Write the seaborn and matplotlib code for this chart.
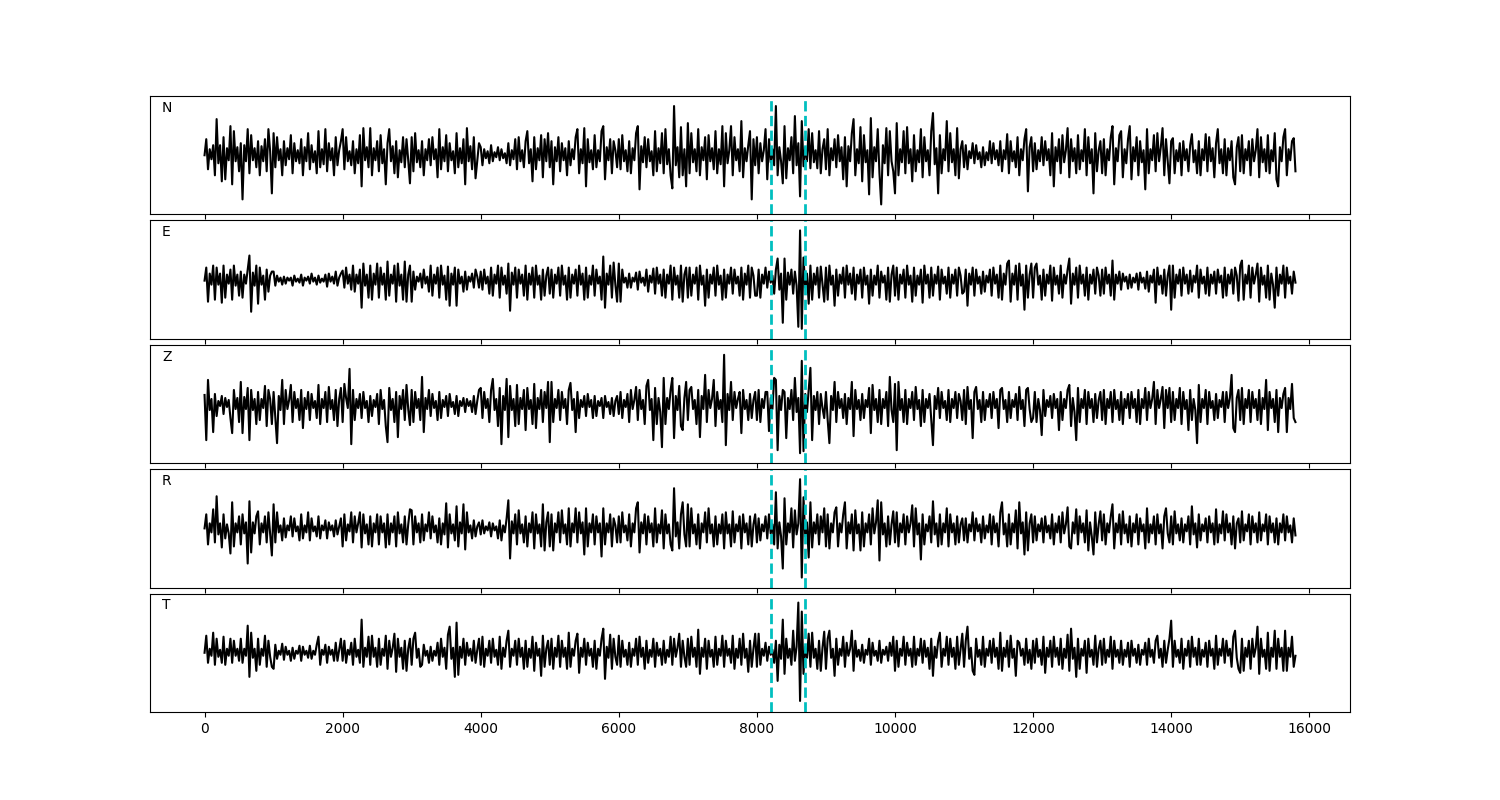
import numpy as np
import matplotlib
matplotlib.use("Agg")
import matplotlib.pyplot as plt
import seaborn as sns

# channel names and the two picks (samples)
channels = ["N", "E", "Z", "R", "T"]
pick_times = [8200, 8700]
sample_step = 25  # samples between the values below

# amplitudes, one line per 1000 samples
north = [
    0, 16, -14, 6, -4, 10, -20, 36, -8, 10, -26, 18, -24, 7, -5, 29, -29, 24, -6, 8, -16, 12, -44, 10, -6, 26, -18, 20, -5, 7, -12, 14, -20, 9, -6, 16, -16, 26, 4, -38,
    22, -12, 18, -5, 6, -20, 14, -10, 7, -4, 20, -18, 12, -6, 5, -8, 16, -20, 8, -6, 22, -14, 10, -7, 4, -18, 24, -12, 6, -9, 26, -16, 12, -5, 7, -20, 18, -10, 5, 14,
    26, -14, 18, -6, 4, -10, 14, -18, 6, -8, 20, -31, 27, -5, 8, -12, 27, -20, 7, -5, 14, -16, 20, -8, 6, -29, 12, 26, -6, 9, -18, 14, -22, 5, -7, 18, -12, 16, -5, -28,
    18, -16, 22, -7, 5, -12, 14, -20, 6, -5, 16, -10, 18, -4, 6, -22, 26, -14, 8, -6, 20, -16, 12, -5, 4, -18, 22, -12, 7, -8, 16, -29, 27, -6, 9, -14, 18, -23, -6, 12,
    8, -10, 6, -3, 4, -8, 10, -6, 3, -2, 8, -5, 6, -3, 2, -8, 12, -10, 5, -4, 16, -14, 18, -6, 5, -12, 14, 24, -8, 6, -26, 18, -14, 7, -5, 20, -22, 16, -6, 22,
    -12, 14, -29, 8, -6, 18, -16, 12, -5, 7, -20, 14, -10, 6, -4, 18, 26, -18, 6, -8, 27, -31, 16, -7, 5, -14, 20, -12, 5, -6, 24, 29, -24, 8, -5, 16, -18, 14, 5, -12,
    16, -14, 20, -6, 5, -16, 14, -18, 7, -5, 22, 29, -34, 9, -7, 18, -12, 16, -6, 4, -20, 24, -16, 7, -8, 22, -18, 26, -9, 6, -20, -33, 49, -10, 8, -22, 28, -20, 6, -31,
    32, -18, 22, -7, 6, -16, 26, -20, 8, -5, 18, -24, 20, -6, 7, -14, 24, -18, 6, -9, 29, -31, 22, -8, 5, 29, -20, 18, -5, 6, -16, 34, -22, 7, -6, 10, 24, -44, 16, -10,
    18, -18, 12, -6, 5, 26, -24, 16, -7, 6, -10, 49, -20, 8, -6, -28, 29, -23, 7, -5, 18, -18, 39, -10, 12, -41, 34, -11, 8, -6, 26, -13, 22, -7, 5, -13, 24, -18, 6, 16,
    -14, 26, -20, 7, -5, 16, -12, 20, -6, 8, -24, 18, -31, 9, -6, 22, 36, -20, 6, -8, 28, -26, 20, -7, 5, -39, 37, -22, 8, -6, 26, -18, -49, 10, -8, 27, -20, 24, -6, -16,
    -38, 32, -20, 6, -7, 24, -18, 28, -8, 6, -26, 20, -16, 5, -7, 26, -22, 18, -6, 5, -20, 24, 42, -9, 7, -38, 20, -18, 6, -5, 34, -16, 22, -7, 6, -20, 27, -23, 6, 14,
    -12, 10, -14, 4, -3, 12, -8, 10, -4, 3, -12, 8, -10, 3, -5, 14, -8, 12, -4, 5, -10, 14, -16, 5, -4, 21, -18, 14, -6, 4, -12, 18, -20, 6, -5, 16, 26, -36, 8, 18,
    -16, 12, -14, 5, -6, 18, -10, 14, -5, 6, -20, 22, -31, 8, -6, 16, -18, 20, -7, 5, 27, -22, 16, -6, 7, -18, 20, -14, 5, -6, 26, -20, 18, -8, 6, -38, 22, -16, 5, 14,
    -18, 16, -20, 6, -5, 18, 29, -29, 7, -6, 20, 24, -22, 6, -8, 16, 29, -24, 8, -6, 18, -20, 14, -7, 5, -34, 26, -18, 6, -5, 20, -16, 22, -6, 8, 27, -20, 16, -6, -28,
    14, 17, -18, 5, -6, 12, -20, 14, -5, 6, -16, 10, 21, -7, 5, -18, 14, -20, 6, -5, 21, -16, 18, -6, 7, -22, 12, 26, -8, 6, -18, 16, -20, 7, -5, 14, -22, -29, 8, 18,
    -16, 20, -18, 6, -5, 14, -20, 16, -6, 5, 26, -22, 18, -7, 6, -16, 20, -18, 5, -6, 22, -24, -31, 8, -6, 18, 26, -20, 6, -5, 14, 17, -16,
]

east = [
    -1, 12, -22, 6, -5, 14, -20, 12, -5, 6, -23, 14, -18, 5, -4, 10, -20, 14, -6, 5, -16, 8, -18, 5, -4, 10, 24, -32, 7, -6, 14, -24, 12, -5, 4, -20, 10, -12, 4, 8,
    8, -6, 4, -2, 2, -5, 3, -4, 2, -1, 2, -6, 4, -2, 1, -3, 5, -6, 2, -1, 3, -4, 6, -2, 2, -5, 4, -3, 1, -2, 5, -7, 6, -2, 3, -4, 8, -6, 2, 6,
    9, -8, 12, -4, 5, -10, 14, -12, 5, -4, 10, -28, 16, -6, 5, -18, 14, -20, 6, -5, 16, -18, 12, -5, 6, -20, 18, -16, 5, -4, 14, -22, 16, -6, 5, -20, 18, -22, 5, 14,
    -22, 8, -10, 3, -2, 6, -8, 10, -4, 3, -12, 14, -16, 5, -4, 12, -18, 14, -5, 4, -20, 13, -26, 6, -5, 12, -26, 10, -4, 3, -12, 8, -10, 3, -2, 6, -8, 10, 3, -8,
    8, -10, 10, -4, 3, -14, 12, -16, 5, -4, 14, -18, 12, -5, 4, -14, 16, -31, 7, -5, 12, -18, 10, -4, 5, -16, 14, -20, 6, -5, 12, -18, 14, -5, 4, -20, 10, -16, 4, 12,
    -14, 10, -18, 5, -4, 12, -16, 14, -5, 4, -20, 12, -18, 5, -4, 10, -16, 14, -5, 6, -20, 12, -18, 4, -5, 14, -16, 10, -4, 3, -20, 23, -28, 6, -5, 14, -18, 17, -5, -22,
    16, -22, 10, -3, 2, -8, 6, -8, 2, -2, 7, -10, 8, -3, 2, -6, 10, -12, 4, -3, 11, -14, 12, -4, 5, -16, 10, -18, 5, -4, 14, -20, 12, -5, 4, -18, 14, -22, 5, 12,
    -18, 12, -16, 5, -4, 12, -20, 14, -5, 4, -26, 10, -18, 5, -4, 12, -16, 14, -5, 4, -20, 10, -18, 5, -4, 12, -14, 10, -4, 3, -16, 12, -20, 6, -5, 14, -18, 12, 4, -16,
    -16, 10, -18, 5, -4, 12, -8, 8, -3, 4, -14, 10, 21, -10, 6, -43, 21, -20, 7, -5, 10, -14, 8, -6, -47, 49, -49, 22, -8, 6, -24, 14, -20, 6, -5, 12, -18, 13, -5, -22,
    12, -20, 14, -5, 4, -26, 10, -16, 5, -4, 12, -18, 14, -5, 6, -14, 12, -20, 5, -4, 10, -18, 12, -5, 4, -24, 10, -16, 4, -5, 14, -18, 8, -3, 4, -20, 12, -22, 5, 14,
    -16, 12, -20, 5, -4, 10, -18, 14, -5, 4, -22, 12, -16, 4, -5, 10, -23, 14, -4, 5, -18, 12, -16, 5, -4, 13, -20, 10, -4, 3, -14, 12, -18, 5, -4, 10, -16, 12, 4, -14,
    -12, 10, -26, 6, -5, 12, -16, 10, -4, 3, -14, 8, -12, 4, -3, 10, -16, 12, -4, 5, -18, 14, -20, 6, -5, 16, 19, -22, 6, -5, 14, -20, 16, -6, 5, -30, 14, -18, 5, 16,
    -18, 12, 16, -5, 4, -20, 10, -16, 5, -4, 14, -21, 12, -5, 4, -14, 14, -18, 5, -4, 10, 21, -24, 6, -5, 12, -18, 14, -4, 5, -16, 12, -20, 5, -4, 10, -14, 12, 4, -16,
    10, -14, 12, -4, 5, -16, 19, -20, 5, -4, 8, -10, 6, -2, 3, -9, 5, -8, 2, -3, 6, -10, 7, -3, 2, -9, 8, -12, 4, -3, 10, -23, 12, -5, 4, -14, 10, -16, 4, 14,
    -30, 14, -18, 5, -4, 10, -16, 12, -4, 5, -14, 9, -12, 4, -3, 14, -18, 10, -4, 3, -14, 12, -16, 5, -4, 8, -14, 10, -3, 4, -18, 12, -16, 5, -4, 10, -14, 12, 4, -21,
    14, 19, -20, 5, -4, 14, -18, 12, -4, 5, 16, -22, 12, -5, 4, -18, 14, -20, 6, -5, -28, 12, -16, 5, -4, 14, -18, 12, -4, 3, -14, 8, -3,
]

vertical = [
    9, -36, 24, -6, 5, -28, 10, -12, 3, -2, 8, -10, 6, -3, 4, -14, -29, 14, -5, 6, -18, 22, -29, 7, -5, 16, -36, 14, -6, 5, -20, 12, -16, 5, -4, 18, -22, 14, 5, -20,
    12, -14, -39, 8, -6, 24, -20, 14, -5, 4, 19, -18, 12, -4, 5, -16, 14, -24, 6, -5, 12, -16, 10, -4, 3, -14, 19, -20, 5, -4, 12, -18, 17, -5, 4, -16, 14, -22, 5, 16,
    -18, 20, 6, -4, 35, -40, 14, -16, 5, -4, 10, -14, 12, -4, 3, -18, 8, -12, 4, -3, 10, -20, 14, -5, 4, -22, -38, 16, -6, 5, -18, 12, -33, 8, -5, 14, -16, 19, -5, -21,
    14, -18, 12, -4, 5, -16, 27, -28, 6, -5, 14, -12, 10, -4, 3, -16, 12, -14, 4, -3, 8, -12, 10, -3, 2, -10, 8, -12, 3, -2, 6, -8, 5, -2, 3, -8, 8, -10, 3, 14,
    16, -14, 12, -4, 5, -18, 14, 25, -6, 5, -22, 16, -40, 8, -6, 25, -33, 18, -6, 5, -22, 19, -20, 6, -5, 14, -26, 16, -5, 4, -20, 20, -24, 6, -5, 14, -18, 12, -4, 22,
    -38, 22, -18, 5, -4, 14, -16, 12, -4, 5, -20, 14, 21, -6, 5, -28, 12, -14, 4, -3, 8, -12, 10, -3, 4, -14, 8, -12, 3, -2, 6, -14, 8, -3, 2, -10, 6, -12, 3, 8,
    -10, 12, -14, 4, -3, 10, -18, 14, -5, 4, 17, -16, 14, -5, 4, -20, 18, 24, -6, 5, -36, 16, -20, 6, -8, -43, 26, -20, 6, -5, 14, 26, -34, 8, -6, 18, -22, -26, 6, 22,
    -16, 14, 17, -5, 4, -20, 14, -33, 8, -5, 29, -18, 14, -4, 5, 24, -22, 12, -5, 4, -18, 49, -41, 10, -6, 22, -16, 12, -4, 5, 12, -29, 14, -5, 4, -16, 10, -14, 4, 12,
    -16, 14, -18, 5, -4, 12, 12, -27, 6, -5, 26, 24, -46, 8, -6, 14, 12, -34, 6, -5, 14, -16, 26, -8, 6, -49, 43, -47, 10, -8, 14, 36, -36, 8, -6, 12, -20, 10, -4, -14,
    12, -16, -39, 8, -6, 22, -18, 12, -4, 5, -14, 10, -20, 6, -5, 22, -32, 14, -5, 4, -16, 10, -14, 4, -3, 16, -29, 19, -6, 5, -18, 14, -20, 5, -4, 12, -22, 27, -6, -18,
    20, -46, 22, -6, 5, -18, 14, -20, 5, -4, 12, -16, 17, -5, 4, -22, 14, -18, 5, -4, 10, -16, -41, 8, -5, 16, -14, 12, -4, 3, -16, 14, -18, 5, -4, 12, -14, 10, 3, -16,
    14, -20, 17, -5, 4, -34, 12, 17, -5, 4, -18, 12, -16, 4, -3, 10, -14, 12, -4, 5, -24, 14, 16, -5, 4, -18, 12, -14, 4, -3, 10, -16, 17, -5, 4, -22, 14, 16, -5, -18,
    -14, 12, -18, 5, -6, -31, 14, -12, 4, -3, 8, -14, 10, -4, 5, -26, 12, -16, 5, -4, 14, 19, -22, 6, -8, -36, 16, -18, 5, -4, 14, -20, 12, -4, 5, -18, 10, -14, 4, 12,
    -16, 14, -20, 5, -4, 12, -18, 14, -5, 4, -16, 12, -20, 5, -4, 10, -14, 12, -4, 5, -18, 14, -20, 5, -4, 16, -16, 12, -4, 5, 22, -20, 14, -4, 5, 17, -24, 14, -4, 16,
    -18, 12, -16, 5, -4, 16, -20, 12, -5, 4, -26, 14, -16, 5, -6, -39, 19, -18, 5, -4, 14, -20, 12, -4, 3, -16, 10, -14, 4, -3, 12, -18, 12, -4, 6, 29, -24, -28, 6, 14,
    -16, 16, -20, 5, -4, 14, -18, 12, -4, 5, -16, 14, -20, 6, -5, 24, -26, 12, -4, 5, -18, 14, -28, 6, -4, 10, 16, -28, 6, -5, 20, -14, -18,
]

radial = [
    0, 14, -16, 5, -4, 19, -14, 32, -6, 5, -19, 14, -10, 4, -5, -25, 26, -18, 5, -4, 12, -16, 14, -5, 6, -35, 27, -24, 6, -5, 12, 17, -16, 5, -4, 12, -14, 16, -5, -27,
    24, -14, 16, -4, 3, -12, 10, -9, 3, -2, 12, -8, 10, -3, 2, -12, 14, -10, 3, -4, 16, -12, 10, -3, 2, -8, 12, -10, 3, -2, 8, -10, 6, -2, 3, -8, 8, -6, 2, 10,
    -18, 14, -12, 4, -3, 16, -14, 12, -4, 5, 16, -19, 14, -5, 4, -16, 12, -18, 5, -4, 14, -16, 12, -4, 5, -19, 14, -16, 5, -4, 12, -18, 16, -5, 4, -14, 12, -16, 4, 19,
    18, -16, 12, -4, 5, -14, 14, -12, 4, -3, 16, -10, 12, -4, 3, -14, 10, -16, 5, -6, 25, -19, 14, -5, 4, -12, 22, -18, 6, -5, 24, -21, 16, -4, 3, -10, 8, -8, 2, 6,
    -6, 8, -5, 2, -2, 6, -8, 5, -2, 2, -10, 8, -12, 3, -4, 10, 28, -30, 7, -5, 14, -16, 18, -5, 4, -14, 12, -18, 5, -4, 16, -20, 14, -5, 4, -18, 24, -22, 6, 16,
    -18, 14, -22, 5, -4, 16, -14, 18, -5, 4, -16, 20, -18, 5, -4, 20, -14, 16, -5, 6, -26, 20, -18, 5, -4, 14, -16, 12, -4, 5, -28, 20, -16, 5, -4, 14, -18, 10, 3, -14,
    12, -14, 16, -4, 3, -12, 14, -18, 5, -4, 20, 26, -24, 6, -5, 14, -16, 12, -4, 5, -18, 20, -14, 4, -5, 18, -20, 14, -5, 4, -16, -22, 40, -8, 6, -20, 14, 26, -6, -18,
    24, -18, 20, -5, 4, -16, 14, -20, 5, -4, 16, -14, 20, -5, 4, -18, 12, -16, 4, -5, 14, -20, 16, -5, 4, -18, 17, -14, 4, -3, 12, -20, 14, -4, 5, -16, 12, -18, 4, 14,
    -14, 10, -12, 4, -3, 12, -10, 14, -5, 4, -16, 36, -20, 6, -8, -40, 30, -16, 5, -4, 20, -19, 18, -6, 5, 49, -49, 31, -8, 6, -29, 26, -19, 6, -5, 14, -16, 12, -4, 20,
    -18, 14, -20, 5, -4, 16, 21, -18, 5, -4, 14, 26, -20, 6, -5, 14, -22, 18, -5, 4, -22, 16, -18, 5, -4, 14, -16, 20, -5, 6, 28, -32, 26, -6, 5, -18, 12, -16, 4, 17,
    -14, 16, -18, 5, -4, 14, -16, 12, -4, 5, 23, -18, 20, -6, 5, -31, 14, -16, 4, -3, 12, -14, 27, -6, 5, -18, 14, -16, 5, -4, 20, -18, 14, -4, 5, -16, 12, -14, 4, 10,
    -12, 10, -14, 4, -3, 16, -12, 10, -3, 4, -14, 12, -10, 3, -4, 14, -16, 12, -4, 5, -18, 16, 26, -6, 5, -18, 14, -16, 5, -4, 18, -20, 26, -5, 6, -26, 16, -22, 5, 14,
    -14, 12, -12, 4, -3, 10, -14, 12, -4, 3, -10, 14, -16, 5, -4, 12, -14, 16, -5, 4, 21, -18, -20, 6, -5, 19, -16, 12, -4, 5, -14, 18, -22, 6, -8, -26, 16, -14, 4, 17,
    -12, 14, -16, 5, -4, 12, 24, -20, 5, -4, 14, -16, 17, -5, 4, -14, 12, -18, 5, -4, 14, -16, 10, -3, 4, -20, 20, -14, 4, -5, 12, -16, 14, -5, 4, -20, 12, 20, -5, -14,
    12, -16, 17, -5, 4, -12, 10, -14, 4, -3, 12, -16, 22, -6, 5, -19, 14, -12, 4, -3, 10, -14, 12, -4, 5, -16, 19, -14, 4, -5, 17, -12, 14, -4, 5, -16, 12, -20, 5, 10,
    -14, 17, -12, 4, -3, 14, -16, 12, -4, 5, -14, 16, -12, 4, -3, 14, -16, 12, -4, 5, -14, 10, -16, 5, -4, 14, -12, 12, -4, 3, -14, 10, -7,
]

transverse = [
    0, 17, -10, 4, -3, 20, -12, 14, -4, 3, -10, 16, -12, 4, -3, 14, -10, 12, -3, 4, -8, 14, -10, 4, -3, 27, -24, 20, -5, 4, -18, 14, -12, 4, -3, 17, -14, 12, -4, -14,
    -16, 8, -6, 2, -2, 9, -7, 6, -2, 2, -8, 5, -6, 2, -1, 7, -8, 6, -2, 2, -5, 7, -6, 2, -2, 8, 16, -12, 3, -2, 8, -10, 6, -2, 3, -8, 10, -8, 3, 14,
    -8, 12, -10, 3, -2, 10, -12, 14, -4, 3, -10, 33, -14, 5, -4, 16, -12, 17, -4, 5, -14, 14, -12, 4, -3, 17, -16, 12, -4, 5, 19, -19, 14, -4, 5, -16, 12, -18, 4, 14,
    -12, 14, 20, -5, 4, -14, -12, 8, -3, 2, -10, 6, -8, 2, -3, 10, -12, 14, -4, 5, -16, 18, 26, -6, 5, -24, 30, -22, 6, -5, 14, -12, 10, -3, 4, -8, 12, -10, 3, 14,
    -12, 16, -14, 4, -3, 12, -10, 14, -4, 3, -12, 16, -16, 5, -4, 12, 22, -14, 4, -3, 12, -12, 14, -4, 5, -16, 12, -14, 4, -5, 16, -18, 10, -3, 4, -23, 17, -14, 4, 12,
    -12, 14, -16, 5, -4, 17, -14, 12, -4, 5, -16, 20, -14, 4, -3, 12, 19, -20, 5, -4, 14, -12, 10, -3, 4, -14, 12, -16, 4, -3, 14, 24, -26, 6, -5, 18, -16, 14, -4, -12,
    17, -14, 12, -4, 3, -12, 10, -14, 4, -3, 14, -12, 16, -4, 5, -16, 12, -10, 3, -4, 14, -14, 10, -3, 4, -12, 12, -10, 3, -4, 16, -12, 14, -4, 5, 19, -14, 12, -4, -14,
    14, -12, 16, -4, 5, -14, 23, -21, 5, -4, 14, -16, 12, -4, 3, -14, 16, -12, 4, -3, 17, -14, 12, -3, 4, -10, 17, -16, 4, -5, 14, -12, 19, -5, 4, -19, 12, -14, 4, 19,
    -14, 19, -12, 4, -3, 10, -8, 6, -2, 3, -10, 12, -28, 8, -6, 33, -21, 14, -5, 4, -12, 22, -8, 6, 50, -48, 41, -21, 6, -5, 19, -14, 20, -5, 4, -16, 12, -18, 5, 21,
    -16, 14, 22, -5, 4, -23, 14, -12, 4, -3, 16, -14, 10, -3, 4, 22, -18, 12, -4, 3, -8, 8, -10, 3, -2, 14, -12, 10, -3, 2, -8, 12, -10, 3, -2, 6, -8, 10, -3, 16,
    -18, 12, -14, 4, -3, 16, -12, 10, -3, 4, -14, 16, -12, 4, -3, 14, -10, 12, -4, 5, -16, 14, -23, 6, -5, 12, 20, -14, 4, -3, 16, -12, 14, -4, 5, -16, 16, -12, 4, 19,
    -14, 12, 26, -6, 5, -18, -22, 14, -4, 3, -12, 16, -14, 4, -3, 12, -10, 14, -4, 5, -16, 20, -18, 5, -4, 12, -14, 17, -5, 4, -23, 12, 10, -3, 4, -12, 14, -10, 3, -16,
    12, -10, 14, -4, 3, -12, 16, -20, 5, -4, 12, -14, 16, -4, 5, -12, 14, -16, 4, -5, 18, -18, 24, -6, 5, -24, 14, -16, 4, -3, 12, -20, 14, -4, 3, -12, 17, -14, 4, 12,
    -12, 14, -10, 3, -4, 16, -16, 12, -4, 3, -10, 12, -12, 3, -4, 10, -14, 12, -3, 4, -10, 8, -12, 3, -2, 10, -12, 14, -4, 3, -10, 12, 17, -5, 4, -14, 12, -10, 3, 14,
    32, -14, 12, -4, 3, -10, 14, -16, 4, -3, 12, -14, 16, -4, 5, -12, 14, -12, 3, -4, 10, -14, 12, -3, 4, -16, 17, -12, 4, -3, 14, -10, 12, -3, 4, -14, 16, 22, -5, -16,
    -20, 14, -18, 5, -4, 12, -16, 14, -4, 5, 26, -21, 14, -4, 3, -16, 20, -18, 5, -4, 22, -16, 14, -4, 5, -18, 22, -18, 5, -4, 16, -14, -3,
]

traces = [north, east, vertical, radial, transverse]

fig, axes = plt.subplots(5, 1, figsize=(15, 8), sharex=True)
fig.subplots_adjust(left=0.1, right=0.9, top=0.88, bottom=0.11, hspace=0.05)

for ax, name, trace in zip(axes, channels, traces):
    samples = np.arange(len(trace)) * sample_step
    sns.lineplot(x=samples, y=trace, ax=ax, color="k", linewidth=1.5)
    for pick in pick_times:
        ax.axvline(pick, color="c", linestyle="--", linewidth=2)
    ax.set_ylim(-59, 59)
    ax.set_yticks([])
    ax.set_ylabel("")
    ax.text(0.01, 0.9, name, transform=ax.transAxes, va="center", fontsize=10)

fig.savefig("out.png", dpi=100)
